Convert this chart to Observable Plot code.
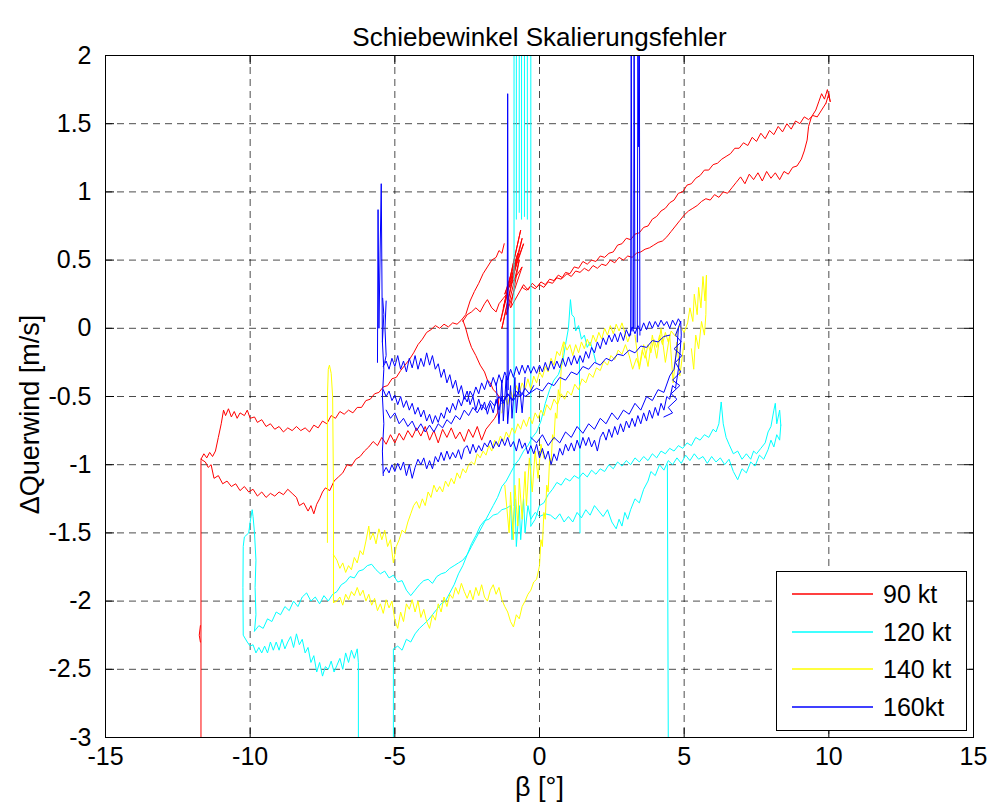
<!DOCTYPE html>
<html>
<head>
<meta charset="utf-8">
<script src="https://cdn.jsdelivr.net/npm/d3@7"></script>
<script src="https://cdn.jsdelivr.net/npm/@observablehq/plot@0.6"></script>
<style>
html,body{margin:0;padding:0;background:#fff;overflow:hidden;}
#wrap{position:relative;width:989px;height:811px;font-family:"Liberation Sans",Arial,sans-serif;}
#legend{position:absolute;left:776px;top:571px;width:191px;height:160px;}
</style>
</head>
<body>
<div id="wrap"><div id="chart"></div><div id="legend"></div></div>
<script>
// ---------- labels / ticks ----------
const titleText = "Schiebewinkel Skalierungsfehler";
const xLabel = "β [°]";
const yLabel = "ΔQuerwind [m/s]";
const seriesNames = ["90 kt", "120 kt", "140 kt", "160kt"];
const seriesColors = ["#ff0000", "#00ffff", "#ffff00", "#0000ff"];
const xTicks = [-15, -10, -5, 0, 5, 10, 15];
const yTicks = [-3, -2.5, -2, -1.5, -1, -0.5, 0, 0.5, 1, 1.5, 2];

// ---------- 90 kt (red) ----------
const red_drop = [[-11.7,-3.0],[-11.7,-0.97]];
const red_mark = [[-11.72,-2.18],[-11.76,-2.25],[-11.72,-2.3]];
const red_leftUpper = [[-11.7,-0.96],[-11.6,-0.92],[-11.5,-0.95],[-11.4,-0.91],[-11.3,-0.94],[-11.2,-0.9],[-11.1,-0.8],[-11.0,-0.7],[-10.92,-0.6],[-10.85,-0.64],[-10.75,-0.59],[-10.65,-0.65],[-10.55,-0.61],[-10.45,-0.66],[-10.35,-0.62],[-10.2,-0.64],[-10.1,-0.6],[-10.0,-0.66],[-9.85,-0.65],[-9.75,-0.69],[-9.6,-0.67],[-9.45,-0.72],[-9.3,-0.7],[-9.15,-0.74],[-9.0,-0.72],[-8.85,-0.76],[-8.7,-0.73],[-8.55,-0.75],[-8.4,-0.72],[-8.25,-0.75],[-8.1,-0.73],[-7.95,-0.76],[-7.8,-0.71],[-7.65,-0.73],[-7.5,-0.68],[-7.35,-0.7],[-7.2,-0.64],[-7.05,-0.66],[-6.9,-0.61],[-6.75,-0.63],[-6.6,-0.6],[-6.45,-0.62],[-6.3,-0.58],[-6.15,-0.58],[-6.0,-0.53],[-5.85,-0.52],[-5.7,-0.48],[-5.55,-0.47],[-5.4,-0.43],[-5.25,-0.42],[-5.1,-0.37],[-4.95,-0.36],[-4.8,-0.31],[-4.65,-0.27],[-4.5,-0.23],[-4.35,-0.18],[-4.2,-0.12],[-4.05,-0.08],[-3.9,-0.03],[-3.75,-0.01],[-3.6,0.02],[-3.45,0.0],[-3.3,0.03],[-3.15,0.01],[-3.0,0.04],[-2.85,0.03],[-2.7,0.06],[-2.55,0.1],[-2.4,0.2],[-2.25,0.27],[-2.1,0.33],[-1.95,0.4],[-1.8,0.45],[-1.65,0.5],[-1.5,0.52],[-1.4,0.57],[-1.3,0.55],[-1.22,0.62]];
const red_leftLower = [[-11.7,-0.96],[-11.55,-0.98],[-11.45,-1.02],[-11.35,-1.0],[-11.25,-1.1],[-11.1,-1.08],[-10.95,-1.14],[-10.8,-1.12],[-10.65,-1.16],[-10.5,-1.14],[-10.35,-1.19],[-10.2,-1.16],[-10.05,-1.2],[-9.9,-1.18],[-9.75,-1.23],[-9.6,-1.2],[-9.45,-1.24],[-9.3,-1.21],[-9.15,-1.23],[-9.0,-1.2],[-8.85,-1.22],[-8.7,-1.18],[-8.55,-1.21],[-8.4,-1.24],[-8.3,-1.3],[-8.15,-1.28],[-8.0,-1.34],[-7.9,-1.3],[-7.8,-1.36],[-7.7,-1.29],[-7.6,-1.25],[-7.5,-1.2],[-7.4,-1.17],[-7.25,-1.19],[-7.1,-1.12],[-6.95,-1.09],[-6.8,-1.06],[-6.65,-1.0],[-6.5,-1.01],[-6.35,-0.96],[-6.2,-0.94],[-6.05,-0.9],[-5.9,-0.87],[-5.75,-0.83],[-5.6,-0.86],[-5.45,-0.8],[-5.3,-0.85],[-5.15,-0.78],[-5.0,-0.84],[-4.85,-0.77],[-4.7,-0.82],[-4.55,-0.75],[-4.4,-0.8],[-4.25,-0.73],[-4.1,-0.79],[-3.95,-0.72],[-3.8,-0.82],[-3.65,-0.75],[-3.5,-0.84],[-3.35,-0.74],[-3.2,-0.8],[-3.05,-0.73],[-2.9,-0.81],[-2.75,-0.76],[-2.6,-0.83],[-2.45,-0.74],[-2.3,-0.8],[-2.15,-0.72],[-2.0,-0.82],[-1.85,-0.74],[-1.7,-0.7],[-1.55,-0.66],[-1.45,-0.62],[-1.4,-0.5]];
const red_desc = [[-2.65,0.06],[-2.55,0.0],[-2.45,-0.08],[-2.35,-0.14],[-2.2,-0.2],[-2.05,-0.27],[-1.9,-0.32],[-1.8,-0.38],[-1.7,-0.4],[-1.6,-0.45],[-1.5,-0.47],[-1.4,-0.5]];
const red_mid = [[-2.65,0.05],[-2.5,0.1],[-2.35,0.12],[-2.2,0.15],[-2.05,0.12],[-1.9,0.18],[-1.8,0.21],[-1.65,0.15],[-1.5,0.12],[-1.4,0.18],[-1.25,0.22],[-1.1,0.26],[-1.35,0.05],[-0.65,0.72],[-1.25,0.15],[-0.6,0.66],[-1.3,0.0],[-0.75,0.55],[-1.2,0.25],[-0.55,0.62],[-1.05,0.3],[-0.6,0.45],[-1.15,0.1],[-0.7,0.5],[-1.0,0.15],[-0.55,0.32],[-0.4,0.28],[-0.25,0.33],[-0.1,0.3],[0.05,0.34],[0.2,0.32],[0.35,0.36],[0.5,0.35],[0.65,0.39],[0.8,0.37],[0.95,0.4],[1.1,0.38],[1.25,0.42],[1.4,0.41],[1.55,0.44],[1.7,0.42],[1.85,0.46],[2.0,0.44],[2.15,0.47],[2.3,0.46],[2.45,0.5],[2.6,0.48],[2.75,0.52],[2.9,0.5],[3.05,0.53],[3.2,0.52],[3.35,0.55],[3.5,0.56],[3.65,0.58],[3.8,0.59],[3.95,0.61],[4.1,0.63],[4.25,0.64],[4.4,0.67],[4.55,0.71],[4.7,0.75],[4.85,0.79],[5.0,0.83],[5.15,0.86],[5.3,0.88],[5.45,0.9],[5.6,0.93],[5.75,0.95],[5.9,0.94],[6.05,0.98],[6.2,0.96],[6.35,1.0],[6.5,0.99],[6.65,1.03],[6.8,1.07],[6.95,1.11],[7.1,1.06],[7.25,1.13],[7.4,1.09],[7.55,1.14],[7.7,1.08],[7.85,1.15],[8.0,1.1],[8.15,1.14],[8.3,1.09],[8.45,1.15],[8.6,1.13],[8.75,1.18],[8.9,1.19],[9.05,1.24],[9.15,1.3],[9.25,1.38],[9.3,1.48],[9.4,1.55],[9.55,1.6],[9.65,1.66],[9.75,1.72],[9.85,1.68],[9.95,1.75],[10.05,1.66],[10.0,1.72],[9.9,1.65]];
const red_rightUpper = [[9.9,1.65],[9.75,1.6],[9.6,1.55],[9.45,1.56],[9.3,1.53],[9.15,1.55],[9.0,1.5],[8.85,1.52],[8.7,1.46],[8.55,1.5],[8.4,1.44],[8.25,1.48],[8.1,1.42],[7.95,1.45],[7.8,1.39],[7.65,1.43],[7.5,1.37],[7.35,1.4],[7.2,1.34],[7.05,1.36],[6.9,1.32],[6.75,1.32],[6.6,1.28],[6.45,1.26],[6.3,1.24],[6.15,1.21],[6.0,1.2],[5.85,1.16],[5.7,1.16],[5.55,1.12],[5.4,1.1],[5.25,1.06],[5.1,1.05],[4.95,1.0],[4.8,0.99],[4.65,0.94],[4.5,0.92],[4.35,0.88],[4.2,0.86],[4.05,0.82],[3.9,0.8],[3.75,0.75],[3.6,0.74],[3.45,0.7],[3.3,0.69],[3.15,0.65],[3.0,0.66],[2.85,0.62],[2.7,0.61],[2.55,0.56],[2.4,0.55],[2.25,0.52],[2.1,0.53],[1.95,0.49],[1.8,0.5],[1.65,0.47],[1.5,0.49],[1.35,0.44],[1.2,0.45],[1.05,0.4],[0.9,0.41],[0.75,0.36],[0.6,0.37],[0.45,0.33],[0.3,0.34],[0.15,0.3],[0.0,0.32],[-0.15,0.29],[-0.3,0.31],[-0.45,0.28],[-0.6,0.3]];

// ---------- 120 kt (cyan) ----------
const cyan_leftLoop = [[-9.85,-2.22],[-9.8,-2.1],[-9.83,-1.9],[-9.8,-1.7],[-9.85,-1.5],[-9.9,-1.38],[-9.93,-1.33],[-10.0,-1.42],[-10.05,-1.5],[-10.2,-1.53],[-10.24,-1.6],[-10.25,-1.9],[-10.24,-2.25],[-10.1,-2.3],[-10.0,-2.33],[-9.9,-2.32],[-9.8,-2.38],[-9.7,-2.34],[-9.6,-2.38],[-9.5,-2.33],[-9.4,-2.38],[-9.3,-2.3],[-9.2,-2.36],[-9.1,-2.3],[-9.0,-2.36],[-8.9,-2.28],[-8.8,-2.35],[-8.7,-2.3],[-8.6,-2.26],[-8.5,-2.34],[-8.4,-2.24],[-8.3,-2.32],[-8.2,-2.28],[-8.1,-2.38],[-8.0,-2.34],[-7.9,-2.45],[-7.8,-2.4],[-7.7,-2.52],[-7.6,-2.45],[-7.5,-2.55],[-7.4,-2.48],[-7.3,-2.5],[-7.2,-2.44],[-7.1,-2.52],[-7.0,-2.47],[-6.9,-2.42],[-6.8,-2.5],[-6.7,-2.38],[-6.6,-2.45],[-6.5,-2.36],[-6.4,-2.42],[-6.3,-2.35],[-6.26,-2.45],[-6.26,-3.0]];
const cyan_upperLeft = [[-9.85,-2.22],[-9.7,-2.18],[-9.55,-2.2],[-9.4,-2.13],[-9.25,-2.15],[-9.1,-2.08],[-8.95,-2.1],[-8.8,-2.04],[-8.65,-2.07],[-8.5,-2.0],[-8.35,-2.04],[-8.2,-1.97],[-8.05,-1.94],[-7.9,-2.0],[-7.75,-1.97],[-7.6,-2.02],[-7.45,-1.96],[-7.3,-2.0],[-7.15,-1.95],[-7.0,-1.93],[-6.85,-1.88],[-6.7,-1.86],[-6.55,-1.82],[-6.4,-1.83],[-6.25,-1.78],[-6.1,-1.77],[-5.95,-1.74],[-5.8,-1.73],[-5.65,-1.77],[-5.5,-1.8],[-5.35,-1.78],[-5.2,-1.83],[-5.05,-1.81],[-4.9,-1.86],[-4.75,-1.85],[-4.6,-1.92],[-4.45,-1.96],[-4.3,-1.92],[-4.15,-1.88],[-4.0,-1.85],[-3.85,-1.84],[-3.7,-1.87],[-3.55,-1.82],[-3.4,-1.8],[-3.25,-1.79],[-3.1,-1.76],[-2.95,-1.74],[-2.8,-1.72],[-2.65,-1.7],[-2.5,-1.66],[-2.35,-1.58],[-2.2,-1.52],[-2.05,-1.45],[-1.9,-1.41],[-1.75,-1.4],[-1.6,-1.37],[-1.45,-1.36],[-1.3,-1.33],[-1.15,-1.32],[-1.0,-1.3],[-0.95,-1.55],[-0.85,-1.25],[-0.8,-1.6],[-0.7,-1.3],[-0.65,-1.55],[-0.55,-1.25],[-0.5,-1.5],[-0.4,-1.3],[-0.3,-1.4],[-0.15,-1.35],[0.0,-1.38],[0.2,-1.36],[0.38,-1.37],[0.55,-1.4],[0.7,-1.36],[0.85,-1.42],[1.0,-1.38],[1.15,-1.42],[1.3,-1.35],[1.45,-1.39],[1.6,-1.33],[1.75,-1.37],[1.9,-1.3],[2.05,-1.34],[2.2,-1.38],[2.35,-1.33],[2.5,-1.42],[2.65,-1.47],[2.75,-1.4],[2.85,-1.45],[2.95,-1.35],[3.05,-1.4],[3.15,-1.33],[3.3,-1.25],[3.45,-1.28],[3.6,-1.18],[3.75,-1.12],[3.85,-1.05],[4.0,-1.08],[4.15,-1.0],[4.3,-1.04],[4.45,-0.97],[4.6,-1.0],[4.75,-0.95],[4.9,-0.99],[5.05,-0.93],[5.2,-0.97],[5.35,-0.92],[5.5,-0.96],[5.65,-0.94],[5.8,-0.99],[5.95,-0.94],[6.1,-0.98],[6.25,-0.95],[6.4,-1.0],[6.55,-0.96],[6.7,-1.05],[6.85,-1.11],[7.0,-1.03],[7.15,-1.06],[7.3,-0.98],[7.45,-1.01],[7.6,-0.93],[7.75,-0.96],[7.9,-0.89],[8.0,-0.82],[8.1,-0.87],[8.2,-0.78],[8.3,-0.82],[8.34,-0.71]];
const cyan_upperRight = [[8.34,-0.71],[8.3,-0.6],[8.2,-0.7],[8.15,-0.55],[8.1,-0.6],[8.0,-0.72],[7.9,-0.76],[7.8,-0.84],[7.65,-0.88],[7.5,-0.92],[7.4,-0.9],[7.3,-0.96],[7.15,-0.92],[7.0,-0.96],[6.85,-0.9],[6.7,-0.92],[6.55,-0.85],[6.45,-0.8],[6.35,-0.7],[6.28,-0.54],[6.2,-0.7],[6.1,-0.76],[6.0,-0.74],[5.85,-0.8],[5.7,-0.78],[5.55,-0.82],[5.4,-0.8],[5.25,-0.86],[5.1,-0.84],[4.95,-0.88],[4.8,-0.86],[4.65,-0.9],[4.5,-0.88],[4.35,-0.92],[4.2,-0.9],[4.05,-0.95],[3.9,-0.92],[3.75,-0.97],[3.6,-0.94],[3.45,-0.98],[3.3,-0.95],[3.15,-1.0],[3.0,-0.97],[2.85,-1.01],[2.7,-0.98],[2.55,-1.03],[2.4,-1.0],[2.25,-1.05],[2.1,-1.03],[1.95,-1.07],[1.8,-1.04],[1.65,-1.09],[1.5,-1.06],[1.35,-1.1],[1.2,-1.08],[1.05,-1.12],[0.9,-1.1],[0.75,-1.15],[0.6,-1.13],[0.45,-1.18],[0.3,-1.22],[0.15,-1.28],[0.0,-1.3],[-0.15,-1.4],[-0.3,-1.45]];
const cyan_diag = [[-5.05,-3.0],[-5.05,-2.35],[-4.9,-2.33],[-4.75,-2.36],[-4.6,-2.28],[-4.45,-2.3],[-4.3,-2.24],[-4.15,-2.2],[-4.0,-2.17],[-3.85,-2.14],[-3.7,-2.1],[-3.55,-2.06],[-3.4,-2.02],[-3.25,-2.0],[-3.1,-1.94],[-2.95,-1.88],[-2.8,-1.8],[-2.65,-1.74],[-2.5,-1.66],[-2.35,-1.6],[-2.2,-1.54],[-2.05,-1.48],[-1.9,-1.42],[-1.75,-1.36],[-1.6,-1.3],[-1.45,-1.24],[-1.3,-1.16],[-1.15,-1.12],[-1.0,-1.06],[-0.85,-1.0],[-0.7,-0.96],[-0.55,-0.9],[-0.4,-0.86],[-0.25,-0.8],[-0.1,-0.76],[0.05,-0.68],[0.2,-0.55],[0.35,-0.45],[0.5,-0.38],[0.65,-0.34],[0.8,-0.25],[0.9,-0.12],[1.0,0.0],[1.07,0.21],[1.12,0.1],[1.2,0.08],[1.25,-0.02],[1.35,0.02],[1.45,-0.08],[1.55,-0.05],[1.65,-0.14],[1.75,-0.1],[1.87,-0.18],[1.95,-0.25]];
const cyan_v1 = [[1.38,-0.22],[1.4,-1.5]];
const cyan_v2 = [[4.42,-1.0],[4.45,-3.0]];
const cyan_s1 = [[-0.88,-1.3],[-0.88,2.3]];
const cyan_s2 = [[-0.8,0.8],[-0.8,2.3]];
const cyan_s3 = [[-0.7,0.85],[-0.7,2.3]];
const cyan_s4 = [[-0.62,0.8],[-0.62,2.3]];
const cyan_s5 = [[-0.52,0.82],[-0.52,2.3]];
const cyan_s6 = [[-0.42,0.8],[-0.42,2.3]];
const cyan_s7 = [[-0.3,-1.45],[-0.3,2.3]];

// ---------- 140 kt (yellow) ----------
const yel_spike = [[-7.33,-1.57],[-7.33,-0.5],[-7.3,-0.3],[-7.26,-0.27],[-7.2,-0.33],[-7.15,-0.5],[-7.12,-1.2],[-7.12,-2.01]];
const yel_upper = [[-7.12,-1.66],[-7.0,-1.7],[-6.9,-1.76],[-6.8,-1.72],[-6.7,-1.79],[-6.6,-1.74],[-6.5,-1.77],[-6.4,-1.68],[-6.3,-1.72],[-6.2,-1.63],[-6.1,-1.66],[-6.0,-1.56],[-5.9,-1.45],[-5.85,-1.55],[-5.75,-1.5],[-5.65,-1.58],[-5.55,-1.47],[-5.45,-1.55],[-5.35,-1.48],[-5.25,-1.6],[-5.15,-1.55],[-5.05,-1.72],[-4.95,-1.6],[-4.85,-1.55],[-4.75,-1.48],[-4.65,-1.5],[-4.55,-1.42],[-4.45,-1.36],[-4.35,-1.3],[-4.25,-1.27],[-4.15,-1.32],[-4.05,-1.25],[-3.95,-1.3],[-3.85,-1.2],[-3.75,-1.24],[-3.65,-1.15],[-3.55,-1.2],[-3.45,-1.16],[-3.35,-1.2],[-3.25,-1.12],[-3.15,-1.16],[-3.05,-1.1],[-2.95,-1.14],[-2.85,-1.06],[-2.75,-1.1],[-2.65,-1.03],[-2.55,-1.06],[-2.45,-1.0],[-2.35,-0.98],[-2.25,-1.0],[-2.15,-0.92],[-2.05,-0.95],[-1.95,-0.9],[-1.85,-0.93],[-1.75,-0.86],[-1.65,-0.9],[-1.55,-0.82],[-1.45,-0.86],[-1.35,-0.79],[-1.25,-0.83],[-1.15,-0.76],[-1.05,-0.8],[-0.95,-0.73],[-0.85,-0.77],[-0.75,-0.7],[-0.65,-0.74],[-0.55,-0.67],[-0.45,-0.72],[-0.35,-0.65],[-0.25,-0.7],[-0.15,-0.62],[-0.05,-0.66],[0.05,-0.6],[0.15,-0.64],[0.25,-0.56],[0.38,-0.6],[0.5,-0.52],[0.62,-0.56],[0.75,-0.48],[0.87,-0.52],[0.97,-0.46],[1.1,-0.49],[1.22,-0.41],[1.35,-0.45],[1.47,-0.37],[1.6,-0.4],[1.72,-0.33],[1.85,-0.36],[1.97,-0.29],[2.1,-0.31],[2.22,-0.24],[2.35,-0.27],[2.47,-0.2],[2.6,-0.23],[2.72,-0.16],[2.85,-0.19],[2.97,-0.12],[3.1,-0.2],[3.22,-0.3],[3.35,-0.22],[3.45,-0.28],[3.55,-0.16],[3.65,-0.22],[3.75,-0.12],[3.85,-0.18],[3.95,-0.08],[4.05,-0.14],[4.15,-0.05],[4.25,-0.12],[4.35,-0.03],[4.45,-0.1],[4.55,-0.02],[4.7,-0.06],[4.85,0.02],[5.0,-0.03],[5.12,0.04],[5.2,0.15],[5.3,0.05],[5.35,0.25],[5.45,0.1],[5.5,0.3],[5.58,0.15],[5.65,0.38],[5.72,0.2],[5.77,0.39],[5.75,0.1],[5.7,-0.05],[5.6,0.05],[5.5,-0.15],[5.4,-0.05],[5.33,-0.3],[5.25,-0.15]];
const yel_lower = [[-7.12,-2.01],[-7.0,-2.0],[-6.9,-1.97],[-6.8,-2.03],[-6.7,-1.95],[-6.6,-1.99],[-6.5,-1.93],[-6.4,-1.96],[-6.3,-1.9],[-6.2,-1.96],[-6.1,-1.92],[-6.0,-2.0],[-5.9,-1.95],[-5.8,-2.03],[-5.7,-1.98],[-5.6,-2.07],[-5.5,-2.02],[-5.4,-2.09],[-5.3,-1.99],[-5.2,-2.05],[-5.1,-2.0],[-5.0,-2.14],[-4.9,-2.2],[-4.8,-2.08],[-4.7,-2.15],[-4.6,-2.02],[-4.5,-2.06],[-4.4,-1.99],[-4.3,-2.08],[-4.2,-2.0],[-4.1,-2.12],[-4.0,-2.06],[-3.9,-2.15],[-3.8,-2.2],[-3.7,-2.1],[-3.6,-2.14],[-3.5,-2.02],[-3.4,-2.08],[-3.3,-1.97],[-3.2,-2.04],[-3.1,-1.95],[-3.0,-1.98],[-2.9,-1.9],[-2.8,-1.95],[-2.7,-1.87],[-2.6,-1.93],[-2.5,-1.98],[-2.4,-1.92],[-2.3,-1.99],[-2.2,-1.9],[-2.1,-1.96],[-2.0,-1.88],[-1.9,-1.97],[-1.8,-2.0],[-1.7,-1.92],[-1.6,-1.88],[-1.5,-1.95],[-1.4,-1.9],[-1.3,-1.99],[-1.2,-2.04],[-1.1,-2.08],[-1.0,-2.15],[-0.9,-2.19],[-0.8,-2.1],[-0.7,-2.13],[-0.6,-2.04],[-0.5,-2.0],[-0.4,-1.95],[-0.3,-1.92],[-0.2,-1.86],[-0.1,-1.84],[0.0,-1.74],[0.05,-1.55],[0.1,-1.6],[0.15,-1.35],[0.2,-1.4],[0.25,-1.15],[0.3,-1.2],[0.35,-0.95],[0.4,-1.0],[0.45,-0.78],[0.5,-0.82],[0.55,-0.62],[0.6,-0.66],[0.65,-0.45],[0.7,-0.5],[0.75,-0.3],[0.8,-0.2],[0.85,-0.1],[0.95,-0.16],[1.05,-0.12],[1.15,-0.2],[1.25,-0.12],[1.35,-0.18],[1.45,-0.1],[1.55,-0.15],[1.65,-0.08],[1.75,-0.13],[1.85,-0.05],[1.95,-0.1],[2.05,-0.03],[2.15,-0.08],[2.25,0.0],[2.35,-0.05],[2.45,0.02],[2.55,-0.04],[2.65,0.03],[2.75,-0.02],[2.85,0.04],[2.95,-0.03],[3.05,-0.1],[3.15,-0.04]];
const yel_branchB = [[-1.3,-0.62],[-1.2,-0.5],[-1.1,-0.56],[-1.0,-0.46],[-0.9,-0.52],[-0.8,-0.42],[-0.7,-0.48],[-0.6,-0.4],[-0.5,-0.45],[-0.4,-0.37],[-0.3,-0.45],[-0.2,-0.35],[-0.1,-0.4],[0.0,-0.32],[0.1,-0.36],[0.2,-0.28],[0.3,-0.32],[0.4,-0.22],[0.5,-0.27],[0.6,-0.17],[0.7,-0.2],[0.83,-0.1]];
const yel_mass = [[-1.2,-1.15],[-1.05,-1.5],[-1.0,-1.2],[-0.9,-1.55],[-0.85,-1.15],[-0.75,-1.45],[-0.7,-1.1],[-0.6,-1.4],[-0.5,-1.05],[-0.45,-1.3],[-0.35,-0.95],[-0.25,-1.2],[-0.15,-0.9],[-0.05,-1.1],[0.05,-0.85],[0.15,-0.95]];
const yel_right = [[3.3,-0.05],[3.45,-0.3],[3.6,-0.12],[3.75,-0.28],[3.9,-0.05],[4.05,-0.22],[4.2,0.0],[4.35,-0.25],[4.5,-0.05],[4.62,-0.4],[4.75,-0.1],[4.85,-0.35],[5.0,-0.1]];

// ---------- 160 kt (blue) ----------
const blu_spikeL = [[-5.6,-0.25],[-5.58,0.87],[-5.55,0.0],[-5.47,1.06],[-5.43,-0.1]];
const blu_vert1 = [[-5.42,0.22],[-5.38,0.1],[-5.43,-0.1],[-5.38,-0.3],[-5.43,-0.5],[-5.38,-0.7],[-5.43,-0.9],[-5.4,-1.08]];
const blu_vert2 = [[-5.3,0.2],[-5.34,0.0],[-5.3,-0.2],[-5.35,-0.25]];
const blu_upper1 = [[-5.4,-0.28],[-5.3,-0.24],[-5.2,-0.3],[-5.1,-0.22],[-5.0,-0.28],[-4.9,-0.2],[-4.8,-0.3],[-4.7,-0.24],[-4.6,-0.32],[-4.5,-0.22],[-4.4,-0.29],[-4.3,-0.2],[-4.2,-0.3],[-4.1,-0.22],[-4.0,-0.28],[-3.9,-0.18],[-3.8,-0.27],[-3.7,-0.2],[-3.6,-0.3],[-3.5,-0.26],[-3.4,-0.36],[-3.3,-0.3],[-3.2,-0.4],[-3.1,-0.34],[-3.0,-0.44],[-2.9,-0.38],[-2.8,-0.48],[-2.7,-0.42],[-2.6,-0.52],[-2.5,-0.46],[-2.4,-0.56],[-2.3,-0.5],[-2.2,-0.6],[-2.1,-0.52],[-2.0,-0.6],[-1.9,-0.54],[-1.8,-0.63],[-1.7,-0.55],[-1.6,-0.62],[-1.5,-0.52],[-1.4,-0.6],[-1.3,-0.5]];
const blu_upper2 = [[-5.4,-0.45],[-5.3,-0.5],[-5.2,-0.46],[-5.1,-0.53],[-5.0,-0.49],[-4.9,-0.56],[-4.8,-0.5],[-4.7,-0.58],[-4.6,-0.53],[-4.5,-0.6],[-4.4,-0.55],[-4.3,-0.63],[-4.2,-0.58],[-4.1,-0.65],[-4.0,-0.6],[-3.9,-0.68],[-3.8,-0.63],[-3.7,-0.7],[-3.6,-0.64],[-3.5,-0.69],[-3.4,-0.62],[-3.3,-0.66],[-3.2,-0.58],[-3.1,-0.62],[-3.0,-0.55],[-2.9,-0.6],[-2.8,-0.52],[-2.7,-0.57],[-2.6,-0.5],[-2.5,-0.54],[-2.4,-0.46],[-2.3,-0.5],[-2.2,-0.43],[-2.1,-0.48],[-2.0,-0.4],[-1.9,-0.45],[-1.8,-0.38],[-1.7,-0.43],[-1.6,-0.36],[-1.5,-0.42],[-1.4,-0.34],[-1.3,-0.4],[-1.2,-0.32],[-1.1,-0.38],[-1.0,-0.3],[-0.9,-0.36],[-0.8,-0.28],[-0.7,-0.34],[-0.6,-0.27],[-0.5,-0.33],[-0.4,-0.27],[-0.3,-0.33],[-0.2,-0.28],[-0.1,-0.33],[0.0,-0.27],[0.1,-0.32],[0.2,-0.25],[0.3,-0.31],[0.4,-0.24],[0.5,-0.3],[0.6,-0.24],[0.7,-0.29],[0.8,-0.22],[0.9,-0.28],[1.0,-0.21],[1.1,-0.27],[1.2,-0.2],[1.3,-0.26],[1.4,-0.2],[1.5,-0.25],[1.6,-0.17],[1.7,-0.22],[1.8,-0.14],[1.9,-0.18],[2.0,-0.1],[2.1,-0.15],[2.2,-0.07],[2.3,-0.12],[2.4,-0.05],[2.5,-0.1],[2.6,-0.04],[2.7,-0.1],[2.8,-0.03],[2.9,-0.09],[3.0,-0.01],[3.1,-0.06],[3.2,0.01],[3.3,-0.04],[3.4,0.02],[3.5,-0.02],[3.6,0.04],[3.7,-0.01],[3.8,0.05],[3.9,0.0],[4.0,0.05],[4.1,0.01],[4.2,0.06],[4.3,0.02],[4.4,0.05],[4.5,0.0],[4.6,0.06],[4.7,0.02],[4.8,0.07],[4.88,0.04]];
const blu_upper3 = [[-1.3,-0.55],[-1.1,-0.48],[-0.9,-0.53],[-0.7,-0.46],[-0.5,-0.5],[-0.3,-0.47],[-0.1,-0.44],[0.1,-0.46],[0.3,-0.4],[0.5,-0.42],[0.7,-0.36],[0.9,-0.38],[1.1,-0.32],[1.3,-0.34],[1.5,-0.28],[1.7,-0.3],[1.9,-0.25],[2.1,-0.27],[2.3,-0.22],[2.5,-0.24],[2.7,-0.19],[2.9,-0.2],[3.1,-0.16],[3.3,-0.18],[3.5,-0.13],[3.7,-0.14],[3.9,-0.09],[4.1,-0.1],[4.3,-0.06],[4.5,-0.05]];
const blu_mid = [[-5.3,-0.6],[-5.15,-0.66],[-5.0,-0.62],[-4.85,-0.7],[-4.7,-0.66],[-4.55,-0.72],[-4.4,-0.68],[-4.25,-0.75],[-4.1,-0.7],[-3.95,-0.76],[-3.8,-0.71],[-3.65,-0.76],[-3.5,-0.7],[-3.35,-0.73],[-3.2,-0.67],[-3.05,-0.7],[-2.9,-0.64],[-2.75,-0.67],[-2.6,-0.6],[-2.45,-0.64],[-2.3,-0.58],[-2.15,-0.62],[-2.0,-0.56],[-1.85,-0.6],[-1.7,-0.53],[-1.55,-0.57],[-1.4,-0.5],[-1.25,-0.55],[-1.1,-0.48],[-0.95,-0.53],[-0.8,-0.46],[-0.65,-0.5],[-0.5,-0.44],[-0.35,-0.48],[-0.2,-0.42]];
const blu_lower = [[-5.4,-1.06],[-5.3,-1.02],[-5.2,-1.06],[-5.1,-1.0],[-5.0,-1.05],[-4.9,-0.99],[-4.8,-1.04],[-4.7,-0.98],[-4.6,-1.08],[-4.5,-1.0],[-4.4,-1.1],[-4.3,-1.02],[-4.2,-0.96],[-4.1,-1.0],[-4.0,-0.95],[-3.9,-1.03],[-3.8,-0.97],[-3.7,-1.03],[-3.6,-0.94],[-3.5,-0.98],[-3.4,-0.91],[-3.3,-0.97],[-3.2,-0.9],[-3.1,-0.96],[-3.0,-0.91],[-2.9,-0.95],[-2.8,-0.89],[-2.7,-0.96],[-2.6,-0.88],[-2.5,-0.86],[-2.4,-0.92],[-2.3,-0.85],[-2.2,-0.91],[-2.1,-0.86],[-2.0,-0.9],[-1.9,-0.84],[-1.8,-0.87],[-1.7,-0.82],[-1.6,-0.88],[-1.5,-0.83],[-1.4,-0.87],[-1.3,-0.81],[-1.2,-0.86],[-1.1,-0.8],[-1.0,-0.87],[-0.9,-0.83],[-0.8,-0.9],[-0.7,-0.81],[-0.6,-0.88],[-0.5,-0.84],[-0.4,-0.92],[-0.3,-0.86],[-0.2,-0.92],[-0.1,-0.85],[0.0,-0.95],[0.1,-0.88],[0.2,-0.96],[0.3,-0.9],[0.4,-1.0],[0.5,-0.92],[0.6,-0.97],[0.7,-0.88],[0.8,-0.93],[0.9,-0.85],[1.0,-0.9],[1.1,-0.84],[1.2,-0.9],[1.3,-0.82],[1.4,-0.88],[1.5,-0.8],[1.6,-0.86],[1.7,-0.8],[1.8,-0.87],[1.9,-0.82],[2.0,-0.9],[2.1,-0.8],[2.2,-0.76],[2.3,-0.82],[2.4,-0.74],[2.5,-0.8],[2.6,-0.72],[2.7,-0.78],[2.8,-0.7],[2.9,-0.76],[3.0,-0.68],[3.1,-0.73],[3.2,-0.66],[3.3,-0.72],[3.4,-0.64],[3.5,-0.7],[3.6,-0.62],[3.7,-0.68],[3.8,-0.6],[3.9,-0.66],[4.0,-0.58],[4.1,-0.64],[4.2,-0.55],[4.3,-0.6],[4.4,-0.5],[4.5,-0.52],[4.6,-0.42],[4.7,-0.44],[4.8,-0.3],[4.85,-0.2],[4.9,-0.05],[4.88,0.05]];
const blu_lower2 = [[-0.3,-0.8],[-0.1,-0.84],[0.1,-0.78],[0.3,-0.86],[0.5,-0.8],[0.7,-0.84],[0.9,-0.76],[1.1,-0.8],[1.3,-0.72],[1.5,-0.77],[1.7,-0.7],[1.9,-0.74],[2.1,-0.66],[2.3,-0.7],[2.5,-0.62],[2.7,-0.67],[2.9,-0.6],[3.1,-0.63],[3.3,-0.55],[3.5,-0.6],[3.7,-0.5],[3.9,-0.53],[4.1,-0.45],[4.3,-0.47],[4.5,-0.35],[4.65,-0.3],[4.75,-0.15],[4.8,0.0]];
const blu_mass = [[-1.5,-0.4],[-1.4,-0.7],[-1.3,-0.38],[-1.25,-0.68],[-1.15,-0.35],[-1.1,-0.7],[-1.0,-0.42],[-0.95,-0.66],[-0.85,-0.36],[-0.8,-0.62],[-0.7,-0.4],[-0.6,-0.62],[-0.5,-0.36]];
const blu_rightEnd = [[4.88,0.05],[4.7,-0.05],[4.9,-0.1],[4.65,-0.15],[4.92,-0.2],[4.7,-0.25],[4.88,-0.32],[4.6,-0.38],[4.85,-0.42],[4.55,-0.48],[4.75,-0.52],[4.45,-0.58],[4.6,-0.62],[4.3,-0.65]];
const blu_spikeC = [[-1.12,-0.5],[-1.1,1.72],[-1.08,-0.45]];
const blu_spikeR1 = [[3.15,-0.05],[3.17,2.3],[3.2,-0.02]];
const blu_spikeR2 = [[3.25,0.0],[3.27,2.3],[3.3,0.0]];
const blu_spikeR3 = [[3.38,-0.1],[3.4,2.3],[3.43,1.33],[3.45,2.3],[3.47,-0.05]];

const seriesSegments = [
  [red_drop, red_mark, red_leftUpper, red_leftLower, red_desc, red_mid, red_rightUpper],
  [cyan_leftLoop, cyan_upperLeft, cyan_upperRight, cyan_diag, cyan_v1, cyan_v2, cyan_s1, cyan_s2, cyan_s3, cyan_s4, cyan_s5, cyan_s6, cyan_s7],
  [yel_spike, yel_upper, yel_lower, yel_branchB, yel_mass, yel_right],
  [blu_spikeL, blu_vert1, blu_vert2, blu_upper1, blu_upper2, blu_upper3, blu_mid, blu_lower, blu_lower2, blu_mass, blu_rightEnd, blu_spikeC, blu_spikeR1, blu_spikeR2, blu_spikeR3]
];

const rows = [];
seriesSegments.forEach((segs, si) => {
  segs.forEach((seg, gi) => {
    seg.forEach(([x, y]) => rows.push({series: seriesNames[si], seg: si + "-" + gi, x, y}));
  });
});

const W = 989, H = 811;
const mT = 55, mR = 16, mB = 74, mL = 105;
const innerW = W - mL - mR, innerH = H - mT - mB;
const fmt = d => String(d);
const gridX = xTicks.slice(1, -1), gridY = yTicks.slice(1, -1);
const FONT = "'Liberation Sans', Arial, sans-serif";

const chart = Plot.plot({
  width: W, height: H,
  marginTop: mT, marginRight: mR, marginBottom: mB, marginLeft: mL,
  style: {fontFamily: FONT, fontSize: "25px", background: "#fff", color: "#000"},
  x: {domain: [-15, 15], ticks: xTicks, tickFormat: fmt, tickSize: 0, tickPadding: 10, label: null},
  y: {domain: [-3, 2], ticks: yTicks, tickFormat: fmt, tickSize: 0, tickPadding: 14, label: null},
  color: {domain: seriesNames, range: seriesColors},
  marks: [
    Plot.ruleX(gridX, {x: d => d, stroke: "#000", strokeOpacity: 0.7, strokeDasharray: "7,5"}),
    Plot.ruleY(gridY, {y: d => d, stroke: "#000", strokeOpacity: 0.7, strokeDasharray: "7,5"}),
    Plot.line(rows, {x: "x", y: "y", z: "seg", stroke: "series", strokeWidth: 1, clip: true, curve: "linear"}),
    Plot.frame({stroke: "#000"}),
    Plot.tickX(xTicks, {x: d => d, insetTop: innerH - 9, stroke: "#000"}),
    Plot.tickX(xTicks, {x: d => d, insetBottom: innerH - 9, stroke: "#000"}),
    Plot.tickY(yTicks, {y: d => d, insetRight: innerW - 9, stroke: "#000"}),
    Plot.tickY(yTicks, {y: d => d, insetLeft: innerW - 9, stroke: "#000"}),
    Plot.text([titleText], {text: d => d, frameAnchor: "top", dy: -28, fontSize: 26, fill: "#000"}),
    Plot.text([yLabel], {text: d => d, frameAnchor: "left", textAnchor: "middle", dx: -75, dy: 18, rotate: -90, fontSize: 27, fill: "#000"}),
    Plot.text([xLabel], {text: d => d, frameAnchor: "bottom", textAnchor: "middle", dy: 58, fontSize: 27, fill: "#000"})
  ]
});
document.getElementById("chart").appendChild(chart);

// legend (drawn as a small svg box)
const NS = "http://www.w3.org/2000/svg";
const lg = document.createElementNS(NS, "svg");
lg.setAttribute("width", 191); lg.setAttribute("height", 160);
const box = document.createElementNS(NS, "rect");
box.setAttribute("x", 0.5); box.setAttribute("y", 0.5); box.setAttribute("width", 190); box.setAttribute("height", 159);
box.setAttribute("fill", "#fff"); box.setAttribute("stroke", "#000");
lg.appendChild(box);
const rowCenters = [23, 61, 98, 136];
seriesNames.forEach((name, i) => {
  const ln = document.createElementNS(NS, "line");
  ln.setAttribute("x1", 16); ln.setAttribute("x2", 97);
  ln.setAttribute("y1", rowCenters[i]); ln.setAttribute("y2", rowCenters[i]);
  ln.setAttribute("stroke", seriesColors[i]); ln.setAttribute("stroke-width", 1.6);
  lg.appendChild(ln);
  const tx = document.createElementNS(NS, "text");
  tx.setAttribute("x", 107); tx.setAttribute("y", rowCenters[i]);
  tx.setAttribute("dy", "0.35em");
  tx.setAttribute("font-family", "Liberation Sans, Arial, sans-serif");
  tx.setAttribute("font-size", 25);
  tx.setAttribute("fill", "#000");
  tx.textContent = name;
  lg.appendChild(tx);
});
document.getElementById("legend").appendChild(lg);
</script>
</body>
</html>
